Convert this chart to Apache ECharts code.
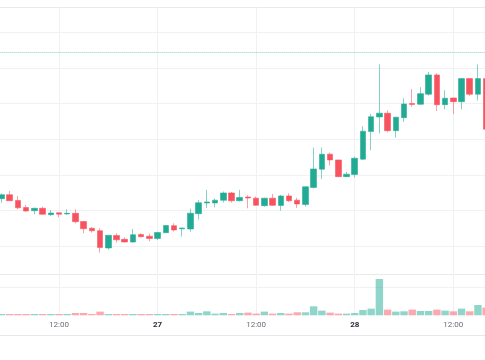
<!DOCTYPE html>
<html>
<head>
<meta charset="utf-8">
<script src="https://cdn.jsdelivr.net/npm/echarts@6/dist/echarts.min.js"></script>
<style>
html,body{margin:0;padding:0;background:#fff;}
#chart{width:485px;height:360px;}
</style>
</head>
<body>
<div id="chart"></div>
<script>
// hours since 26th 00:00 (hourly candles, 26 05:00 .. 28 16:00)
var hours = [5,6,7,8,9,10,11,12,13,14,15,16,17,18,19,20,21,22,23,24,25,26,27,28,29,30,31,32,33,34,35,36,37,38,39,40,41,42,43,44,45,46,47,48,49,50,51,52,53,54,55,56,57,58,59,60,61,62,63,64];
var opens = [113.29,114.41,112.78,110.81,109.92,110.59,108.79,109.33,108.99,109.19,
  106.88,104.97,104.30,99.44,102.95,101.88,101.12,103.23,102.75,102.11,
  103.74,105.70,104.83,104.78,109.07,112.08,112.08,112.84,114.89,112.72,
  113.76,113.43,111.32,113.43,111.38,114.05,112.87,111.66,116.43,121.55,
  125.79,124.16,119.47,120.08,124.38,132.16,136.24,137.28,132.39,136.04,
  140.03,139.80,142.61,148.03,139.69,141.57,140.51,147.00,142.61,147.00];
var closes = [114.41,112.72,110.73,109.83,110.59,108.90,109.27,108.93,109.19,106.83,
  104.86,104.27,99.58,103.01,101.74,101.12,103.17,102.61,102.11,103.79,
  105.76,104.49,105.06,109.21,112.14,112.36,112.87,114.89,112.70,113.62,
  113.48,111.43,113.43,111.43,114.05,112.70,111.80,116.63,121.63,125.76,
  124.16,119.47,120.17,124.63,132.22,136.29,137.30,132.39,136.15,139.89,
  139.75,142.78,148.03,139.66,141.49,140.53,147.00,142.61,147.00,132.78];
var lows = [112.16,112.64,110.31,109.63,108.90,108.85,108.51,108.06,108.79,106.38,
  103.57,103.74,98.17,98.96,100.93,101.04,100.93,102.44,101.32,101.69,
  103.65,104.07,102.67,104.02,107.44,110.67,110.81,112.22,112.22,112.50,
  110.59,111.32,111.04,111.24,109.92,112.36,110.67,111.10,116.15,118.82,
  122.61,119.38,119.38,119.24,124.16,126.88,131.60,131.94,130.42,134.83,
  139.13,139.61,142.22,137.92,138.40,136.99,138.40,142.14,140.87,132.58];
var highs = [114.75,115.45,114.05,111.52,110.76,111.01,110.11,109.41,110.31,110.31,
  107.02,105.34,104.97,103.09,103.57,102.44,104.78,103.57,103.46,104.02,
  105.90,106.38,105.14,110.48,112.87,115.73,113.34,115.31,115.17,115.73,
  114.24,113.90,113.57,114.61,114.33,114.80,113.54,116.71,127.61,127.61,
  126.18,124.24,120.84,125.08,133.62,137.08,150.98,138.12,136.32,141.49,
  144.10,144.58,148.88,148.51,143.74,141.66,147.19,147.11,150.93,147.05];
var volumes = [47,47,47,47,47,47,47,47,47,82,
  82,47,130,47,47,47,47,47,47,47,
  47,47,47,130,82,141,59,82,47,82,
  94,59,130,59,82,59,106,106,318,165,
  94,59,59,82,188,235,1283,200,130,141,
  200,153,153,200,165,141,235,141,365,271];
var priceLine = 154.3;
var tickHours = [12,24,36,48,60];
var tickLabels = ['12:00','27','12:00','28','12:00'];
var dayTicks = [24,48];

var UP = '#22ab94', DOWN = '#f7525f';
var UP_W = 'rgba(34,171,148,0.5)', DOWN_W = 'rgba(247,82,95,0.5)';
var GRID_L = -39.6, GRID_R = -66.9;

var candleData = hours.map(function (h, i) { return [h, opens[i], closes[i], lows[i], highs[i]]; });
var volData = hours.map(function (h, i) {
  return { value: [h, volumes[i]], itemStyle: { color: closes[i] >= opens[i] ? UP_W : DOWN_W } };
});

function xAx(gi, extra) {
  var base = { type: 'value', gridIndex: gi, min: 0, max: 72, interval: 12,
    axisLine: { show: false }, axisTick: { show: false }, axisLabel: { show: false }, splitLine: { show: false } };
  for (var k in extra) base[k] = extra[k];
  return base;
}
function gridBox(top, bottom) {
  return { left: GRID_L, right: GRID_R, top: top, bottom: bottom, containLabel: false, outerBoundsMode: 'none' };
}

var chart = echarts.init(document.getElementById('chart'), null, { renderer: 'canvas' });
chart.setOption({
  animation: false,
  backgroundColor: '#ffffff',
  grid: [
    gridBox(32.3, 114),
    gridBox(7, 45),
    gridBox(274, 44.7),
    gridBox(300, 25)
  ],
  xAxis: [
    xAx(0, {}),
    xAx(1, {
      splitLine: { show: true, lineStyle: { color: '#f0f1f2', width: 1 } },
      axisLabel: {
        show: true, margin: 6, fontFamily: 'Roboto', fontSize: 8, color: '#6b6e78',
        formatter: function (v) {
          var idx = tickHours.indexOf(v);
          if (idx < 0) return '';
          return dayTicks.indexOf(v) >= 0 ? '{d|' + tickLabels[idx] + '}' : tickLabels[idx];
        },
        rich: { d: { fontFamily: 'Roboto', fontSize: 8, fontWeight: 'bold', color: '#2a2e39' } }
      }
    }),
    xAx(2, {}),
    xAx(3, { axisLine: { show: true, lineStyle: { color: '#e6e7e9', width: 1 } } })
  ],
  yAxis: [
    { type: 'value', gridIndex: 0, min: 100, max: 160, interval: 10,
      axisLine: { show: false }, axisTick: { show: false }, axisLabel: { show: false },
      splitLine: { show: true, lineStyle: { color: '#f0f1f2', width: 1 } } },
    { type: 'value', gridIndex: 1, min: 0, max: 1, interval: 1,
      axisLine: { show: false }, axisTick: { show: false }, axisLabel: { show: false },
      splitLine: { show: true, lineStyle: { color: ['transparent', '#e8e9eb'], width: 1 } } },
    { type: 'value', gridIndex: 2, min: 0, max: 1460, interval: 1000,
      axisLine: { show: false }, axisTick: { show: false }, axisLabel: { show: false },
      splitLine: { show: true, lineStyle: { color: ['transparent', '#f0f1f2', '#e8e9eb'], width: 1 } } },
    { type: 'value', gridIndex: 3, show: false }
  ],
  series: [
    {
      type: 'bar', name: 'Volume', xAxisIndex: 2, yAxisIndex: 2,
      data: volData, barWidth: 7.4, silent: true
    },
    {
      type: 'candlestick', name: 'Price', xAxisIndex: 0, yAxisIndex: 0,
      data: candleData, barWidth: 6, clip: false,
      itemStyle: {
        color: UP, color0: DOWN,
        borderColor: 'rgba(34,171,148,0.55)', borderColor0: 'rgba(247,82,95,0.55)',
        borderWidth: 1
      },
      markLine: {
        silent: true, symbol: ['none', 'none'],
        label: { show: false },
        lineStyle: { type: [1, 1], color: 'rgba(34,171,148,0.55)', width: 1 },
        data: [{ yAxis: priceLine }]
      }
    }
  ]
});
</script>
</body>
</html>
